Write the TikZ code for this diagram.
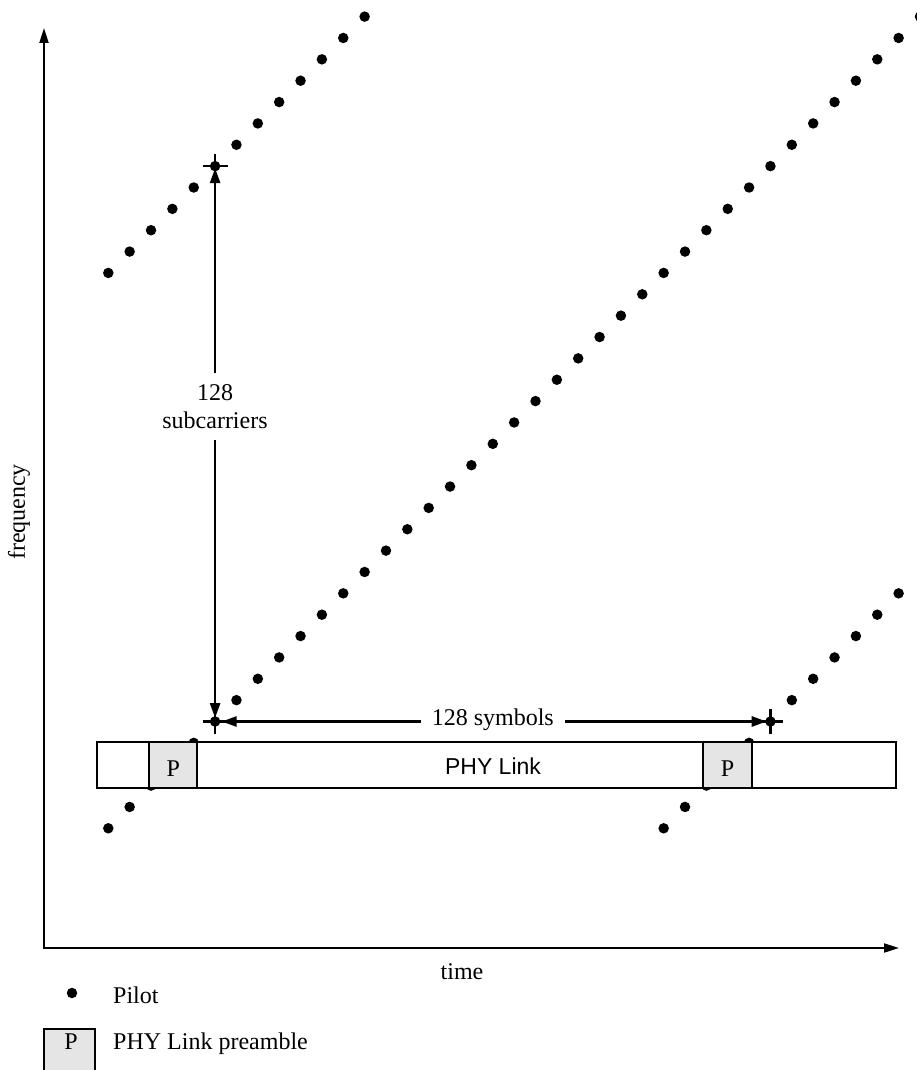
\documentclass[tikz,border=0pt]{standalone}
\usepackage{fontspec}
\setmainfont{Liberation Serif}
\newfontfamily\arialfont{Liberation Sans}
\usetikzlibrary{arrows.meta}
\begin{document}
\begin{tikzpicture}[x=1pt,y=-1pt,
  pilot/.style={circle,fill=black,inner sep=0pt,minimum size=10.5pt},
  axisline/.style={line width=2pt,{Triangle[length=15pt,width=9pt]}-{Triangle[length=15pt,width=9pt]}},
  dimline/.style={line width=2.7pt},
  dimtip/.tip={Triangle[length=15pt,width=10pt]},
  lbl/.style={font=\fontsize{24}{28}\selectfont,inner sep=0pt},
  box/.style={draw,line width=2pt,inner sep=0pt,outer sep=0pt},
  pbox/.style={box,fill=black!10},
]
\useasboundingbox (0,0) rectangle (917,1070);

% axes
\coordinate (O) at (44,948);
\coordinate (ytip) at (44,28);
\coordinate (xtip) at (899,948);
\draw[axisline] (ytip) -- (O) -- (xtip);

% pilots
\foreach \k in {0,...,38}
  \node[pilot] (a\k) at ({108.3+\k*21.36},{828.3-\k*21.36}) {};
\foreach \k in {0,...,12}
  \node[pilot] (b\k) at ({108.3+\k*21.36},{828.3-(\k+26)*21.36}) {};
\foreach \k in {0,...,11}
  \node[pilot] (c\k) at ({108.3+(\k+26)*21.36},{828.3-\k*21.36}) {};

% PHY link bar
\node[box,fill=white,minimum width=799pt,minimum height=46pt] (bar) at (496.2,765) {};
\node[pbox,lbl,minimum width=48pt,minimum height=46pt,text height=22.5pt] (p1) at (173.3,765) {P};
\node[pbox,lbl,minimum width=49.6pt,minimum height=46pt,text height=22.5pt] (p2) at (727.5,765) {P};
\node[font=\arialfont\fontsize{23}{27}\selectfont,inner sep=0pt] (phy) at (493,766) {PHY Link};

% dimensions
\draw[dimline,dimtip-dimtip,shorten <=3.5pt,shorten >=2pt] (a5.center) -- (b5.center);
\draw[dimline,dimtip-dimtip,shorten <=6.6pt,shorten >=3.8pt] (a5.center) -- (c5.center);
\foreach \m in {a5,b5,c5}
  \draw[dimline] ([xshift=-12.5pt]\m.center) -- ([xshift=12.5pt]\m.center)
                 ([yshift=-12.5pt]\m.center) -- ([yshift=12.5pt]\m.center);
\node[lbl,fill=white,align=center,inner xsep=4pt,inner ysep=11.4pt] (sub) at (215,406.5) {128\\subcarriers};
\node[lbl,fill=white,inner xsep=11pt,inner ysep=3pt] (sym) at (492.8,720) {128 symbols};

% axis labels
\node[lbl] (time) at (462,972) {time};
\node[lbl,rotate=90] (freq) at (19,512) {frequency};

% legend
\node[pilot] (ldot) at (72,993) {};
\node[lbl,anchor=base west] (lpilot) at (113,1003) {Pilot};
\node[pbox,minimum width=50.7pt,minimum height=48pt] (lbox) at (69.7,1053) {};
\node[lbl,anchor=base] (lp) at (71,1049.3) {P};
\node[lbl,anchor=base west] (lpre) at (113,1049.3) {PHY Link preamble};
\end{tikzpicture}
\end{document}
